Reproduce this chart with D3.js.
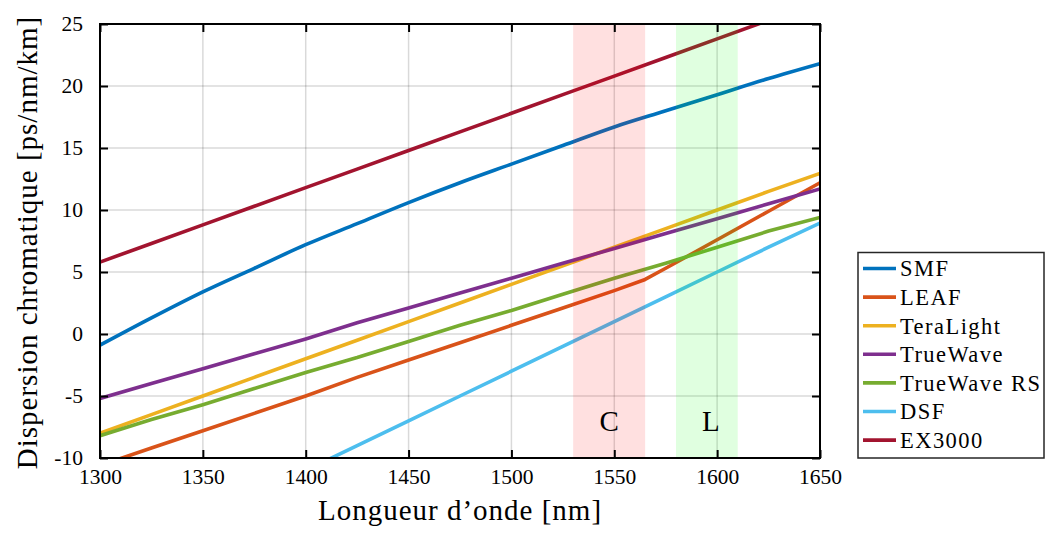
<!DOCTYPE html>
<html>
<head>
<meta charset="utf-8">
<script src="https://cdn.jsdelivr.net/npm/d3@7"></script>
<style>
  html, body { margin: 0; padding: 0; background: #fff; }
  svg { display: block; }
  text { font-family: "Liberation Serif", "DejaVu Serif", serif; fill: #000; }
</style>
</head>
<body>
<svg id="chart" width="1046" height="534"></svg>
<script>
// ---------- data ----------
const wavelengths = [1300, 1325, 1350, 1375, 1400, 1425, 1450, 1475, 1500, 1525, 1550, 1575, 1600, 1625, 1650];
const leafWavelengths = [1300, 1325, 1350, 1375, 1400, 1425, 1450, 1475, 1500, 1525, 1550, 1565, 1575, 1600, 1625, 1650];

const smf        = [-0.9, 1.3, 3.4, 5.3, 7.2, 8.9, 10.6, 12.2, 13.7, 15.2, 16.7, 18.0, 19.3, 20.6, 21.8];
const leaf       = [-10.6, -9.2, -7.8, -6.4, -5.0, -3.5, -2.1, -0.7, 0.7, 2.1, 3.5, 4.4, 5.3, 7.6, 9.9, 12.2];
const teraLight  = [-8.0, -6.5, -5.0, -3.5, -2.0, -0.5, 1.0, 2.5, 4.0, 5.5, 7.0, 8.5, 10.0, 11.5, 12.95];
const trueWave   = [-5.2, -4.0, -2.8, -1.6, -0.4, 0.9, 2.1, 3.3, 4.5, 5.7, 6.9, 8.1, 9.3, 10.5, 11.7];
const trueWaveRS = [-8.2, -6.9, -5.7, -4.4, -3.1, -1.9, -0.6, 0.7, 1.9, 3.2, 4.5, 5.7, 7.0, 8.3, 9.4];
const dsf        = [null, null, null, null, -11.0, -9.0, -7.0, -5.0, -3.0, -1.0, 1.0, 3.0, 5.0, 7.0, 8.95];
const ex3000     = [5.8, 7.3, 8.8, 10.3, 11.8, 13.3, 14.8, 16.3, 17.8, 19.3, 20.8, 22.3, 23.8, 25.3, 26.8];

const seriesNames  = ["SMF", "LEAF", "TeraLight", "TrueWave", "TrueWave RS", "DSF", "EX3000"];
const seriesColors = ["#0072BD", "#D95319", "#EDB120", "#7E2F8E", "#77AC30", "#4DBEEE", "#A2142F"];
const seriesX      = [wavelengths, leafWavelengths, wavelengths, wavelengths, wavelengths, wavelengths, wavelengths];
const seriesY      = [smf, leaf, teraLight, trueWave, trueWaveRS, dsf, ex3000];

const bandNames  = ["C", "L"];
const bandStart  = [1530, 1580];
const bandEnd    = [1565, 1610];
const bandColors = ["#ff0000", "#00ff00"];
const bandLabelX = [1547.5, 1597];
const bandLabelY = -7.8;

const xTicks = [1300, 1350, 1400, 1450, 1500, 1550, 1600, 1650];
const yTicks = [-10, -5, 0, 5, 10, 15, 20, 25];

const xLabel = "Longueur d\u2019onde [nm]";
const yLabel = "Dispersion chromatique [ps/nm/km]";

// ---------- layout ----------
const FONT = "'Liberation Serif', 'DejaVu Serif', serif";
const svg = d3.select("#chart");
const plot = { left: 100, top: 24, right: 820, bottom: 458 };

const x = d3.scaleLinear().domain([1300, 1650]).range([plot.left, plot.right]);
const y = d3.scaleLinear().domain([-10, 25]).range([plot.bottom, plot.top]);

svg.append("defs").append("clipPath").attr("id", "clip")
  .append("rect")
  .attr("x", plot.left).attr("y", plot.top)
  .attr("width", plot.right - plot.left).attr("height", plot.bottom - plot.top);

// grid
const grid = svg.append("g");
grid.selectAll(".gx").data(xTicks).join("line")
  .attr("x1", d => x(d)).attr("x2", d => x(d))
  .attr("y1", plot.top).attr("y2", plot.bottom)
  .attr("stroke", "#000").attr("stroke-opacity", 0.15).attr("stroke-width", 1.5);
grid.selectAll(".gy").data(yTicks).join("line")
  .attr("y1", d => y(d)).attr("y2", d => y(d))
  .attr("x1", plot.left).attr("x2", plot.right)
  .attr("stroke", "#000").attr("stroke-opacity", 0.15).attr("stroke-width", 1.5);

// lines
const lines = svg.append("g").attr("clip-path", "url(#clip)");
seriesNames.forEach((name, i) => {
  const pts = seriesX[i].map((w, j) => [w, seriesY[i][j]]);
  const gen = d3.line()
    .defined(d => d[1] !== null)
    .x(d => x(d[0])).y(d => y(d[1]))
    .curve(i === 0 ? d3.curveMonotoneX : d3.curveLinear);
  lines.append("path")
    .datum(pts)
    .attr("d", gen)
    .attr("fill", "none")
    .attr("stroke", seriesColors[i])
    .attr("stroke-width", 3.6)
    .attr("stroke-linejoin", "round");
});

// bands (semi-transparent, above lines)
const bands = svg.append("g");
bandNames.forEach((b, i) => {
  bands.append("rect")
    .attr("x", x(bandStart[i])).attr("width", x(bandEnd[i]) - x(bandStart[i]))
    .attr("y", plot.top).attr("height", plot.bottom - plot.top)
    .attr("fill", bandColors[i]).attr("fill-opacity", 0.12);
  bands.append("text")
    .attr("x", x(bandLabelX[i])).attr("y", y(bandLabelY))
    .attr("text-anchor", "middle")
    .style("font-family", FONT)
    .attr("font-size", 29)
    .text(b);
});

// axes (ticks inside, box)
const tickLen = 8;
const fmt = d => String(d);
const axes = svg.append("g");
const xAxisB = d3.axisBottom(x).tickValues(xTicks).tickFormat(fmt).tickSizeInner(-tickLen).tickSizeOuter(0).tickPadding(tickLen + 5);
const xAxisT = d3.axisTop(x).tickValues(xTicks).tickSizeInner(-tickLen).tickSizeOuter(0).tickFormat("");
const yAxisL = d3.axisLeft(y).tickValues(yTicks).tickFormat(fmt).tickSizeInner(-tickLen).tickSizeOuter(0).tickPadding(tickLen + 9);
const yAxisR = d3.axisRight(y).tickValues(yTicks).tickSizeInner(-tickLen).tickSizeOuter(0).tickFormat("");

function styleAxis(g) {
  g.select(".domain").remove();
  g.selectAll(".tick line").attr("stroke", "#000").attr("stroke-width", 2);
  g.selectAll(".tick text").style("font-family", FONT).attr("font-size", 21.5).attr("fill", "#000");
}
axes.append("g").attr("transform", `translate(0,${plot.bottom})`).call(xAxisB).call(styleAxis)
  .selectAll(".tick text").attr("dy", "0.62em");
axes.append("g").attr("transform", `translate(0,${plot.top})`).call(xAxisT).call(styleAxis);
axes.append("g").attr("transform", `translate(${plot.left},0)`).call(yAxisL).call(styleAxis);
axes.append("g").attr("transform", `translate(${plot.right},0)`).call(yAxisR).call(styleAxis);

axes.append("rect")
  .attr("x", plot.left).attr("y", plot.top)
  .attr("width", plot.right - plot.left).attr("height", plot.bottom - plot.top)
  .attr("fill", "none").attr("stroke", "#000").attr("stroke-width", 2);

// axis labels
svg.append("text")
  .attr("x", (plot.left + plot.right) / 2).attr("y", 520)
  .attr("text-anchor", "middle").attr("font-size", 29)
  .style("font-family", FONT).style("letter-spacing", "1px")
  .text(xLabel);
svg.append("text")
  .attr("transform", `translate(37,242.5) rotate(-90)`)
  .attr("text-anchor", "middle").attr("font-size", 29)
  .style("font-family", FONT).style("letter-spacing", "1px")
  .text(yLabel);

// legend
const legend = svg.append("g");
legend.append("rect")
  .attr("x", 858).attr("y", 252.5).attr("width", 186).attr("height", 205.5)
  .attr("fill", "#fff").attr("stroke", "#262626").attr("stroke-width", 1.5);
seriesNames.forEach((name, i) => {
  const cy = 268.5 + i * 28.6;
  legend.append("line")
    .attr("x1", 863).attr("x2", 896).attr("y1", cy).attr("y2", cy)
    .attr("stroke", seriesColors[i]).attr("stroke-width", 3.6);
  legend.append("text")
    .attr("x", 900).attr("y", cy).attr("dy", "0.35em")
    .attr("font-size", 22.5)
    .style("font-family", FONT).style("letter-spacing", "1.45px")
    .text(name);
});
</script>
</body>
</html>
